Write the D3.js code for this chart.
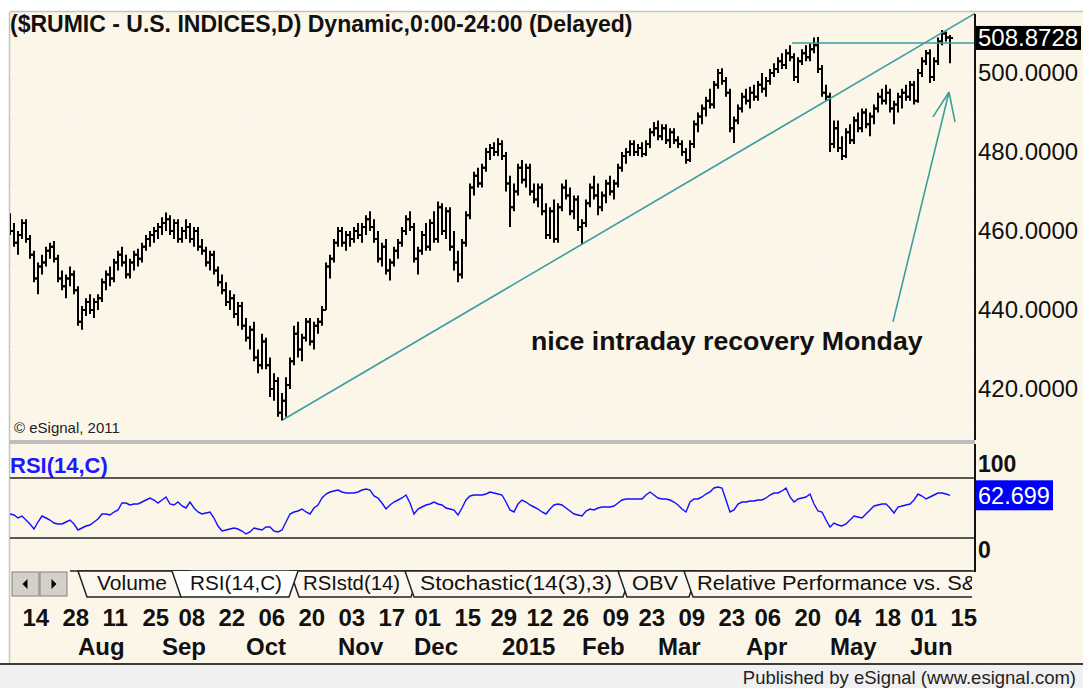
<!DOCTYPE html>
<html>
<head>
<meta charset="utf-8">
<script src="https://cdn.jsdelivr.net/npm/d3@7"></script>
<style>
body { margin: 0; background: #fff; }
text { font-family: "Liberation Sans", Arial, sans-serif; }
</style>
</head>
<body>
<svg id="chart"></svg>
<script>
const SVG_WIDTH = 1083;
const SVG_HEIGHT = 688;
const PLOT_LEFT = 10;
const PLOT_RIGHT = 975;
const MAIN_TOP = 12;
const MAIN_BOTTOM = 440;
const RSI_TOP = 444;
const RSI_BOTTOM = 570;
const TAB_TOP = 570;
const TAB_BOTTOM = 597;
const FOOTER_TOP = 664;
const CREAM = "#fcf6e9";
const TEAL = "#3a9f9f";

// trading calendar
const startDate = "2014-07-09";
const endDate = "2015-07-01";
const holidays = ["2014-07-04", "2014-09-01", "2014-11-27", "2014-12-25", "2015-01-01",
	"2015-01-19", "2015-02-16", "2015-04-03", "2015-05-25"];

// daily bars: [open, high, low, close]
const ohlc = [
	[462,464.5,459,460],[460,462,456,457],[457,460,454,459],[459,463,458,462],[462,463,457,458],
	[458,459,453,454],[454,455,447,448],[448,452,444,451],[451,454,449,452],[452,456,451,455],
	[455,457,453,456],[456,457.5,452,453],[453,454,447,448],[448,450,445,446],[446,449,443,448],
	[448,451,446,449],[449,450,444,445],[445,446,436,437],[437,441,435,440],[440,443,438.5,442],
	[442,444,439,440],[440,443,438,442],[442,444,440,443],[443,448,442,447],[447,450,445,449],
	[449,451,446,448],[448,453,447,452],[452,455,450,454],[454,456,451,452],[452,454,448,449],
	[449,453,448,452],[452,455,450,454],[454,455.5,451,453],[453,457,452,456],[456,459,455,458],
	[458,460,456,459],[459,461,457,460],[460,462,458,461],[461,463.5,459,462],[462,464.7,460,463],
	[463,464,459,460],[460,463,458,462],[462,463,457,458],[458,461,457,460],[460,463,458,461],
	[461,462,457,458],[458,461,456,460],[460,461,455,456],[456,458,454,455],[455,456,451,452],
	[452,455,450,454],[454,455,449,450],[450,451,446,447],[447,449,444,445],[445,447,441,442],
	[442,445,440,443],[443,444,438,439],[439,442,436,441],[441,442,435,436],[436,438,432,433],
	[433,436,430,435],[435,437,427,428],[428,430,424,426],[426,434,425,432],[432,433,425,426],
	[426,428,418,420],[420,424,417,422],[422,423,413,414],[414,419,412,417],[417,423,413,421],
	[421,428,420,427],[427,436,426,434],[434,437,428,430],[430,434,427,433],[433,438,432,437],
	[437,438,431,432],[432,437,430,436],[436,438,434,437],[437,441,436,440],[440,452,440,451],
	[451,454,448,453],[453,458,452,457],[457,461,456,460],[460,461,456,457],[457,460,455,459],
	[459,460,456,458],[458,461,457,460],[460,462,458,459],[459,462,457,461],[461,464,459,463],
	[463,465,460,461],[461,463,457,458],[458,460,452,453],[453,457,451,456],[456,458,449,450],
	[450,453,447.5,452],[452,456,451,455],[455,458,453,457],[457,461,456,460],[460,464,459,463],
	[463,465,460,461],[461,462,452,453],[453,456,449,455],[455,460,454,459],[459,462,455,456],
	[456,463,455,462],[462,465,457,458],[458,467.5,457,466],[466,467,459,460],[460,466,458,465],
	[465,466,455,456],[456,460,450,452],[452,455,447,449],[449,458,448,457],[457,465,456,464],
	[464,472,463,471],[471,475,469,474],[474,476,471,472],[472,477,471,476],[476,481,475,480],
	[480,482,478,481],[481,482.5,479,480],[480,483.5,479,482],[482,483,478,479],[479,480,470,472],
	[472,474,461,466],[466,472,465,470],[470,477,469,476],[476,478,472,473],[473,477,471,476],
	[476,477,469,470],[470,472,467,468],[468,472,466,471],[471,472,464,465],[465,467,458,459],
	[459,466,458,465],[465,468,457,458],[458,467,457,466],[466,472,465,471],[471,473,468,469],
	[469,471,464,465],[465,469,463,468],[468,469,460,461],[461,463,456.5,462],[462,468,461,467],
	[467,472,466,471],[471,474,468,469],[469,472,464,466],[466,470,465,469],[469,473,467,472],
	[472,474,469,470],[470,473,468,472],[472,477,471,476],[476,480,475,479],[479,481,477,480],
	[480,483,479,482],[482,483,479,480],[480,482,479,481],[481,482.5,478.7,479.5],[479.5,483,479,482],
	[482,486,481,485],[485,487.6,484,486],[486,488,483,484],[484,487,483,486],[486,487,482,483],
	[483,486,481,485],[485,486,482,483],[483,484,481,482],[482,483,479,480],[480,481,477,478],
	[478,483,477.5,482],[482,488,481,487],[487,490,485,489],[489,492,487,491],[491,494,489,493],
	[493,496,491,492],[492,498,491,497],[497,501,496,500],[500,501.2,497,498],[498,499,494,495],
	[495,496,485,486],[486,489,482.3,488],[488,492,487,491],[491,495,490,494],[494,496,492,493],
	[493,496.5,491,495],[495,497,493,494],[494,498,493,497],[497,500,495,496],[496,499,494,498],
	[498,501,497,500],[500,502.5,499,501],[501,504,500,503],[503,505,501,502],[502,506,501,505],
	[505,507,503,504],[504,505,498,499],[499,504,497.5,503],[503,506,502,505],[505,507,503,504],
	[504,507.5,503,506],[506,509,505,507],[507,509.1,500,501],[501,502,494,495],[495,497,493,494],
	[494,495,480,482],[482,488,481,486],[486,488,480,481],[481,484,478,479],[479,486,478.5,485],
	[485,487,482,483],[483,489,482,488],[488,490,485,486],[486,491,485,490],[490,491,486,487],
	[487,490,484,489],[489,492,487,491],[491,495,490,494],[494,496,492,493],[493,497,492,495],
	[495,496,490,491],[491,493,487,492],[492,495,490,494],[494,496,491,495],[495,497,493,494],
	[494,498,493,497],[497,498,492,493],[493,501,492.5,500],[500,504,499,503],[503,505.8,502,505],
	[505,506,497.5,499],[499,504,498,503],[503,509,502,508],[508,510.9,507,510],[510,510.5,508,509],
	[509,509.6,502.5,508.8728]
];

const rsiValues = [
	44,43,40,42,38,34,29,36,42,40,38,35,34,34,36,38,34,28,30,32,
	33,36,39,44,44,43,46,48,55,55,53,54,54,56,58,60,58,55,58,61,
	54,53,56,52,50,56,50,46,44,45,46,40,32,27,28,29,30,29,27,24,
	26,30,29,28,31,31,27,26,28,36,44,46,47,49,46,44,50,53,60,64,
	66,67,68,66,65,65,65,66,68,69,68,62,60,55,49,53,56,58,60,63,
	55,44,49,51,53,54,56,54,53,50,49,48,43,50,58,62,63,63,63,64,
	66,65,64,63,56,48,46,54,58,56,53,51,49,46,44,49,53,54,53,50,
	47,44,43,42,47,49,48,50,51,51,51,52,55,58,59,59,59,59,59,63,
	66,63,60,59,59,58,56,53,49,46,56,59,59,61,64,66,70,71,70,58,
	46,48,54,56,56,57,57,58,58,60,63,65,65,67,70,61,56,59,60,61,
	64,54,47,46,38,31,35,33,32,34,38,42,41,40,44,48,52,53,54,54,
	50,45,51,52,53,54,58,64,62,59,61,63,65,65,64,62.699
];

const gridPrices = [410, 420, 430, 440, 450, 460, 470, 480, 490, 500, 510];
const priceTicks = [500, 480, 460, 440, 420];
const lastPrice = 508.8728;
const rsiBands = [80, 20];
const rsiTicks = [100, 0];
const lastRsi = 62.699;

const tickDates = ["2014-07-14", "2014-07-28", "2014-08-11", "2014-08-25", "2014-09-08", "2014-09-22",
	"2014-10-06", "2014-10-20", "2014-11-03", "2014-11-17", "2014-12-01", "2014-12-15", "2014-12-29",
	"2015-01-12", "2015-01-26", "2015-02-09", "2015-02-23", "2015-03-09", "2015-03-23", "2015-04-06",
	"2015-04-20", "2015-05-04", "2015-05-18", "2015-06-01", "2015-06-15"];
const monthDates = ["2014-08-01", "2014-09-02", "2014-10-01", "2014-11-03", "2014-12-01", "2015-01-02",
	"2015-02-02", "2015-03-02", "2015-04-01", "2015-05-01", "2015-06-01"];
const monthLabels = ["Aug", "Sep", "Oct", "Nov", "Dec", "2015", "Feb", "Mar", "Apr", "May", "Jun"];

// annotations in (bar index, price)
const trendLine = [[68.25, 412.2], [241.25, 515.1]];
const resistanceLine = [[195.5, 507.6], [241.25, 507.6]];
const arrowShaft = [[220.75, 437], [234.75, 495.2]];
const arrowHeadLeft = [[230.75, 488.9], [234.75, 495.2]];
const arrowHeadRight = [[236.25, 487.6], [234.75, 495.2]];
const noteAnchor = [130.25, 429.9];

const titleText = "($RUMIC - U.S. INDICES,D) Dynamic,0:00-24:00 (Delayed)";
const noteText = "nice intraday recovery Monday";
const tabNames = ["Volume", "RSI(14,C)", "RSIstd(14)", "Stochastic(14(3),3)", "OBV", "Relative Performance vs. S&P 500"];

// calendar of bar dates
const parseDate = d3.timeParse("%Y-%m-%d");
const formatDate = d3.timeFormat("%Y-%m-%d");
const holidaySet = new Set(holidays);
const days = d3.timeDay.range(parseDate(startDate), parseDate(endDate))
	.filter(function(d) { return d.getDay() % 6 !== 0 && !holidaySet.has(formatDate(d)); });
const dayIndex = new Map(days.map(function(d, k) { return [formatDate(d), k]; }));

const x = d3.scaleLinear().domain([0, ohlc.length - 1]).range([10, 950]);
const y = d3.scaleLinear().domain([420, 500]).range([389, 73]);
const yRsi = d3.scaleLinear().domain([0, 100]).range([558, 458]);

const svg = d3.select("#chart").attr("width", SVG_WIDTH).attr("height", SVG_HEIGHT);

// backgrounds
svg.append("rect").attr("width", SVG_WIDTH).attr("height", SVG_HEIGHT).attr("fill", "#fff");
svg.append("rect").attr("x", PLOT_LEFT).attr("y", MAIN_TOP).attr("width", SVG_WIDTH - PLOT_LEFT)
	.attr("height", FOOTER_TOP - MAIN_TOP).attr("fill", CREAM);
svg.append("line").attr("x1", PLOT_LEFT).attr("x2", SVG_WIDTH).attr("y1", MAIN_TOP - 0.5).attr("y2", MAIN_TOP - 0.5)
	.attr("stroke", "#c4c4c4").attr("stroke-width", 1.5);
svg.append("line").attr("x1", PLOT_LEFT - 0.5).attr("x2", PLOT_LEFT - 0.5).attr("y1", MAIN_TOP).attr("y2", FOOTER_TOP)
	.attr("stroke", "#c4c4c4").attr("stroke-width", 1.5);
svg.append("rect").attr("x", PLOT_LEFT).attr("y", MAIN_BOTTOM).attr("width", PLOT_RIGHT - PLOT_LEFT)
	.attr("height", RSI_TOP - MAIN_BOTTOM).attr("fill", "#bdbdbd");
svg.append("rect").attr("x", 0).attr("y", FOOTER_TOP).attr("width", SVG_WIDTH).attr("height", SVG_HEIGHT - FOOTER_TOP)
	.attr("fill", "#f0f0f0");
svg.append("line").attr("x1", 0).attr("x2", SVG_WIDTH).attr("y1", FOOTER_TOP).attr("y2", FOOTER_TOP)
	.attr("stroke", "#3c3c3c").attr("stroke-width", 2);

const defs = svg.append("defs");
defs.append("clipPath").attr("id", "mainClip").append("rect")
	.attr("x", PLOT_LEFT).attr("y", MAIN_TOP).attr("width", PLOT_RIGHT - PLOT_LEFT).attr("height", MAIN_BOTTOM - MAIN_TOP);
defs.append("clipPath").attr("id", "rsiClip").append("rect")
	.attr("x", PLOT_LEFT).attr("y", RSI_TOP).attr("width", PLOT_RIGHT - PLOT_LEFT).attr("height", RSI_BOTTOM - RSI_TOP);

// dotted grid
const monthIdx = monthDates.map(function(d) { return dayIndex.get(d); });
const gridG = svg.append("g").attr("stroke", "#fff").attr("stroke-width", 1.2).attr("stroke-dasharray", "1.5,3");
gridG.append("g").attr("clip-path", "url(#mainClip)").selectAll("line").data(gridPrices).join("line")
	.attr("x1", PLOT_LEFT).attr("x2", PLOT_RIGHT).attr("y1", function(d) { return y(d); }).attr("y2", function(d) { return y(d); });
[[MAIN_TOP, MAIN_BOTTOM], [RSI_TOP, RSI_BOTTOM]].forEach(function(span) {
	gridG.append("g").selectAll("line").data(monthIdx).join("line")
		.attr("x1", function(d) { return x(d); }).attr("x2", function(d) { return x(d); })
		.attr("y1", span[0]).attr("y2", span[1]);
});

// title
svg.append("text").attr("x", 10).attr("y", 32).attr("font-size", 23).attr("font-weight", "bold")
	.attr("fill", "#111").text(titleText);

// price bars
const barArea = svg.append("g").attr("clip-path", "url(#mainClip)");
barArea.selectAll("path").data(ohlc).join("path")
	.attr("d", function(d, k) {
		const cx = x(k);
		return "M" + cx + "," + y(d[1]) + "V" + y(d[2]) +
			"M" + (cx - 3) + "," + y(d[0]) + "H" + cx +
			"M" + cx + "," + y(d[3]) + "H" + (cx + 3);
	})
	.attr("fill", "none").attr("stroke", "#000").attr("stroke-width", 2);

// trend lines and arrow
const linePath = d3.line().x(function(p) { return x(p[0]); }).y(function(p) { return y(p[1]); });
const annoArea = svg.append("g").attr("clip-path", "url(#mainClip)")
	.attr("fill", "none").attr("stroke", TEAL).attr("stroke-width", 1.6);
[trendLine, resistanceLine, arrowShaft, arrowHeadLeft, arrowHeadRight].forEach(function(pts) {
	annoArea.append("path").attr("d", linePath(pts));
});

svg.append("text").attr("x", x(noteAnchor[0])).attr("y", y(noteAnchor[1]))
	.attr("font-size", 26.7).attr("font-weight", "bold").attr("fill", "#111").text(noteText);

svg.append("text").attr("x", 14).attr("y", 433).attr("font-size", 15).attr("fill", "#222").text("\u00a9 eSignal, 2011");

// price axis
const priceAxis = d3.axisRight(y).tickValues(priceTicks).tickFormat(d3.format(".4f")).tickSize(0).tickPadding(3);
const priceAxisArea = svg.append("g").attr("transform", "translate(" + PLOT_RIGHT + ",0)").call(priceAxis);
priceAxisArea.select(".domain").remove();
priceAxisArea.selectAll("text").attr("font-size", 24).attr("fill", "#111")
	.style("font-family", "'Liberation Sans', Arial, sans-serif");

const lastY = y(lastPrice);
svg.append("rect").attr("x", PLOT_RIGHT + 1).attr("y", lastY - 12).attr("width", 105).attr("height", 24).attr("fill", "#000");
svg.append("text").attr("x", PLOT_RIGHT + 3).attr("y", lastY).attr("dy", "0.35em").attr("font-size", 24)
	.attr("fill", "#fff").text(d3.format(".4f")(lastPrice));

// RSI panel
svg.append("text").attr("x", 10).attr("y", 473).attr("font-size", 22).attr("font-weight", "bold")
	.attr("fill", "#1a1aff").text("RSI(14,C)");
svg.append("g").selectAll("line").data(rsiBands).join("line")
	.attr("x1", PLOT_LEFT).attr("x2", PLOT_RIGHT).attr("y1", function(d) { return yRsi(d); }).attr("y2", function(d) { return yRsi(d); })
	.attr("stroke", "#222").attr("stroke-width", 1.6);
svg.append("path").datum(rsiValues).attr("clip-path", "url(#rsiClip)")
	.attr("d", d3.line().x(function(d, k) { return x(k); }).y(function(d) { return yRsi(d); }))
	.attr("fill", "none").attr("stroke", "#1010ff").attr("stroke-width", 1.4);

svg.append("g").selectAll("text").data(rsiTicks).join("text")
	.attr("x", PLOT_RIGHT + 3).attr("y", function(d) { return yRsi(d) + (d > 50 ? 14 : 0); })
	.attr("font-size", 23).attr("font-weight", "bold").attr("fill", "#111").text(function(d) { return d; });
const rsiLastY = yRsi(lastRsi);
svg.append("rect").attr("x", PLOT_RIGHT + 1).attr("y", rsiLastY - 15).attr("width", 77).attr("height", 30).attr("fill", "#0000ff");
svg.append("text").attr("x", PLOT_RIGHT + 3).attr("y", rsiLastY).attr("dy", "0.35em").attr("font-size", 23.5)
	.attr("fill", "#fff").text(lastRsi);

// right axis line
svg.append("line").attr("x1", PLOT_RIGHT).attr("x2", PLOT_RIGHT).attr("y1", MAIN_TOP + 2).attr("y2", MAIN_BOTTOM)
	.attr("stroke", "#111").attr("stroke-width", 2);
svg.append("line").attr("x1", PLOT_RIGHT).attr("x2", PLOT_RIGHT).attr("y1", RSI_TOP).attr("y2", TAB_TOP + 2)
	.attr("stroke", "#111").attr("stroke-width", 2);

// tab strip
const tabArea = svg.append("g");
tabArea.append("line").attr("x1", 70).attr("x2", PLOT_RIGHT).attr("y1", TAB_TOP + 1).attr("y2", TAB_TOP + 1)
	.attr("stroke", "#222").attr("stroke-width", 1.5);
[12, 40].forEach(function(bx, k) {
	tabArea.append("rect").attr("x", bx).attr("y", TAB_TOP + 2).attr("width", 27).attr("height", 24)
		.attr("fill", "#d4d0c8").attr("stroke", "#808080");
	const mx = bx + 13.5, my = TAB_TOP + 14;
	tabArea.append("path").attr("fill", "#000")
		.attr("d", k === 0 ? "M" + (mx - 3) + "," + my + "L" + (mx + 2) + "," + (my - 5) + "V" + (my + 5) + "Z"
			: "M" + (mx + 3) + "," + my + "L" + (mx - 2) + "," + (my - 5) + "V" + (my + 5) + "Z");
});
// tab outline (top-left, top-right) and label (start, width)
const tabEdges = [[78, 190], [172, 298], [290, 420], [405, 632], [618, 698], [684, 1000]];
const tabLabels = [[97, 70], [190, 92], [303, 97], [420, 192], [632, 46], [697, 336]];
const tabClip = defs.append("clipPath").attr("id", "tabClip").append("rect")
	.attr("x", 70).attr("y", TAB_TOP).attr("width", PLOT_RIGHT - 73).attr("height", TAB_BOTTOM - TAB_TOP + 2);
const tabOrder = [0, 2, 3, 4, 5, 1];
const tabG = tabArea.append("g").attr("clip-path", "url(#tabClip)");
tabOrder.forEach(function(k) {
	const a = tabEdges[k][0], b = tabEdges[k][1];
	const selected = k === 1;
	tabG.append("path")
		.attr("d", "M" + a + "," + (TAB_TOP + 1) + "L" + (a + 9) + "," + TAB_BOTTOM + "H" + (b - 9) + "L" + b + "," + (TAB_TOP + 1) + (selected ? "" : "Z"))
		.attr("fill", selected ? "#fff" : "#fbf7ee").attr("stroke", "#222").attr("stroke-width", 1.5);
	tabG.append("text").attr("x", tabLabels[k][0]).attr("y", TAB_BOTTOM - 7).attr("font-size", 20).attr("fill", "#111")
		.attr("textLength", tabLabels[k][1]).attr("lengthAdjust", "spacingAndGlyphs")
		.text(tabNames[k]);
});

// date axis
const tickIdx = tickDates.map(function(d) { return dayIndex.get(d); });
const dateAxis = d3.axisBottom(x).tickValues(tickIdx).tickSize(0).tickPadding(0)
	.tickFormat(function(k) { return d3.timeFormat("%d")(days[k]); });
const dateAxisArea = svg.append("g").attr("transform", "translate(0,609)").call(dateAxis);
dateAxisArea.select(".domain").remove();
dateAxisArea.selectAll("text").attr("text-anchor", "start").attr("font-size", 24).attr("font-weight", "bold")
	.attr("fill", "#111").style("font-family", "'Liberation Sans', Arial, sans-serif");

svg.append("g").selectAll("text").data(monthIdx).join("text")
	.attr("x", function(d) { return x(d); }).attr("y", 655).attr("font-size", 24).attr("font-weight", "bold")
	.attr("fill", "#111").text(function(d, k) { return monthLabels[k]; });

svg.append("text").attr("x", 1076).attr("y", 684).attr("text-anchor", "end").attr("font-size", 18.5)
	.attr("fill", "#222").text("Published by eSignal (www.esignal.com)");
</script>
</body>
</html>
